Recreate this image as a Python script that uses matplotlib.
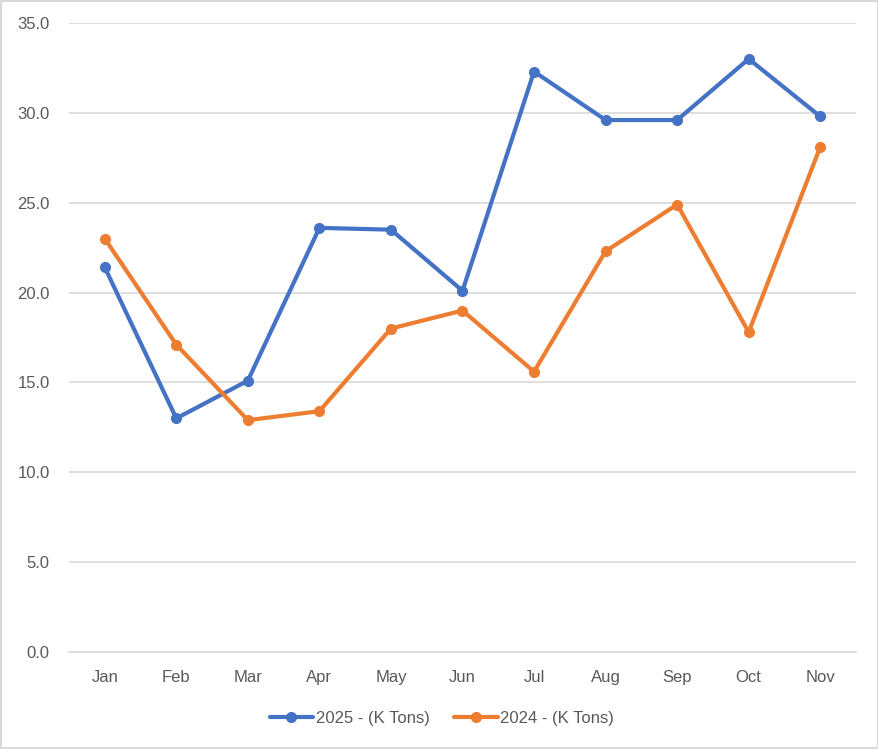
import numpy as np
import matplotlib
matplotlib.use("Agg")
import matplotlib.pyplot as plt
from matplotlib.patches import Rectangle

months = ["Jan", "Feb", "Mar", "Apr", "May", "Jun", "Jul", "Aug", "Sep", "Oct", "Nov"]
tons_2025 = [21.4, 13.0, 15.1, 23.6, 23.5, 20.1, 32.3, 29.6, 29.6, 33.0, 29.8]
tons_2024 = [23.0, 17.1, 12.9, 13.4, 18.0, 19.0, 15.6, 22.3, 24.9, 17.8, 28.1]
yticks = [0, 5, 10, 15, 20, 25, 30, 35]

txt = "#595959"
plt.rcParams['font.family'] = ['Liberation Sans', 'DejaVu Sans']

fig = plt.figure(figsize=(8.79, 7.49), dpi=100)
# axes: x 69..856 px, y 23..652 px
ax = fig.add_axes([69 / 879, 1 - 652 / 749, (856 - 69) / 879, (652 - 23) / 749])

x = np.arange(len(months))
ax.plot(x, tons_2025, color="#4472C4", lw=3, marker="o", ms=7, label="2025 - (K Tons)",
        solid_capstyle="round", zorder=3)
ax.plot(x, tons_2024, color="#ED7D31", lw=3, marker="o", ms=7, label="2024 - (K Tons)",
        solid_capstyle="round", zorder=3)

ax.set_xlim(-0.5, len(months) - 0.5)
ax.set_ylim(0, 35)
ax.set_yticks(yticks)
ax.set_yticklabels([f"{v:.1f}" for v in yticks])
ax.set_xticks(x)
ax.set_xticklabels(months)
ax.tick_params(length=0, colors=txt, labelsize=12)
ax.tick_params(axis="y", pad=14)
ax.tick_params(axis="x", pad=13)
ax.grid(axis="y", color="#D9D9D9", lw=1.2)
ax.set_axisbelow(True)
for s in ["top", "right", "left"]:
    ax.spines[s].set_visible(False)
ax.spines["bottom"].set_color("#D9D9D9")
ax.spines["bottom"].set_linewidth(1.2)

leg = fig.legend(loc="center", bbox_to_anchor=(442 / 879, 1 - 718 / 749), ncol=2,
                 frameon=False, fontsize=12, handlelength=2.6, columnspacing=1.5,
                 handletextpad=0.15)
for t in leg.get_texts():
    t.set_color(txt)

fig.patches.append(Rectangle((0.001, 0.001), 0.998, 0.998, transform=fig.transFigure,
                             fill=False, edgecolor="#D9D9D9", lw=1.5))

fig.savefig("out.png", dpi=100)
